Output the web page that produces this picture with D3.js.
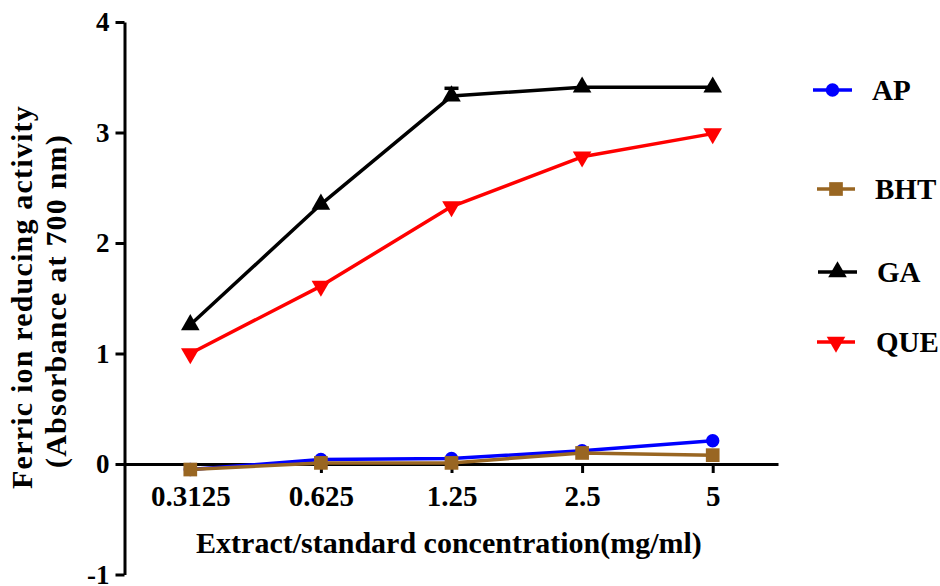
<!DOCTYPE html>
<html>
<head>
<meta charset="utf-8">
<script src="https://cdn.jsdelivr.net/npm/d3@7"></script>
<style>
  html, body { margin: 0; padding: 0; background: #fff; }
  svg { display: block; }
  text { font-family: "Liberation Serif", "Times New Roman", serif; font-weight: bold; fill: #000; }
</style>
</head>
<body>
<svg id="chart" width="940" height="586"></svg>
<script>
// Concentrations (categorical x positions)
const concentrations = ["0.3125", "0.625", "1.25", "2.5", "5"];
const yTicks = [-1, 0, 1, 2, 3, 4];

// Absorbance at 700 nm per sample
const seriesNames = ["AP", "BHT", "GA", "QUE"];
const apValues  = [-0.05, 0.04, 0.05, 0.12, 0.21];
const bhtValues = [-0.05, 0.01, 0.01, 0.10, 0.08];
const gaValues  = [1.26, 2.35, 3.33, 3.41, 3.41];
const queValues = [1.00, 1.61, 2.33, 2.78, 2.99];
// standard error (only visible on GA at 1.25)
const gaErrors  = [0, 0, 0.07, 0, 0];

const seriesColors = ["#0000ff", "#996622", "#000000", "#ff0000"];
const seriesShapes = ["circle", "square", "triangle", "triangleDown"];

const series = seriesNames.map((name, i) => ({
  name,
  color: seriesColors[i],
  shape: seriesShapes[i],
  values: [apValues, bhtValues, gaValues, queValues][i],
  errors: name === "GA" ? gaErrors : null
}));

const svg = d3.select("#chart");

const x = d3.scalePoint().domain(concentrations).range([125, 778]).padding(0.5);
const y = d3.scaleLinear().domain([-1, 4]).range([574.5, 22]);

// y axis
const yAxis = d3.axisLeft(y).tickValues(yTicks).tickFormat(d => String(d)).tickSize(9).tickSizeOuter(0);
const gy = svg.append("g").attr("transform", "translate(124.5,0)").call(yAxis);
gy.select(".domain").attr("stroke", "#000").attr("stroke-width", 3);
gy.selectAll(".tick line").attr("stroke", "#000").attr("stroke-width", 3);
gy.selectAll(".tick text")
  .attr("x", -15).attr("dy", "0.33em")
  .style("font-size", "27px").style("font-family", "Liberation Serif").style("font-weight", "bold");

// x axis along y = 0
const xAxis = d3.axisBottom(x).tickSize(9).tickSizeOuter(0);
const gx = svg.append("g").attr("transform", `translate(0,${y(0)})`).call(xAxis);
gx.select(".domain").attr("stroke", "#000").attr("stroke-width", 3);
gx.selectAll(".tick line").attr("stroke", "#000").attr("stroke-width", 3);
gx.selectAll(".tick text")
  .attr("y", 42).attr("dy", 0)
  .style("font-size", "29px").style("font-family", "Liberation Serif").style("font-weight", "bold");

// axis titles
svg.append("text")
  .attr("x", 449).attr("y", 553)
  .attr("text-anchor", "middle")
  .style("font-size", "30px")
  .text("Extract/standard concentration(mg/ml)");

const yTitle = svg.append("g").attr("transform", "translate(32,297) rotate(-90)");
yTitle.append("text")
  .attr("x", 0).attr("y", 0)
  .attr("text-anchor", "middle")
  .style("font-size", "30px")
  .style("letter-spacing", "1.2px")
  .text("Ferric ion reducing activity");
yTitle.append("text")
  .attr("x", -4).attr("y", 34)
  .attr("text-anchor", "middle")
  .style("font-size", "30px")
  .style("letter-spacing", "1.2px")
  .text("(Absorbance at 700 nm)");

// marker symbols
const symbolFor = (shape, size) => {
  if (shape === "circle") return d3.symbol(d3.symbolCircle, size * 0.95)();
  if (shape === "square") return d3.symbol(d3.symbolSquare, size * 1.25)();
  return d3.symbol(d3.symbolTriangle, size)();
};

const line = d3.line().x((d, i) => x(concentrations[i])).y(d => y(d));

const plot = svg.append("g");
series.forEach(s => {
  const g = plot.append("g");
  g.append("path")
    .datum(s.values)
    .attr("fill", "none")
    .attr("stroke", s.color)
    .attr("stroke-width", 3.5)
    .attr("stroke-linejoin", "round")
    .attr("d", line);

  // upward error bars, drawn beneath the markers
  if (s.errors) {
    s.values.forEach((v, i) => {
      const e = s.errors[i];
      if (!e) return;
      const cx = x(concentrations[i]);
      g.append("line").attr("x1", cx).attr("x2", cx)
        .attr("y1", y(v)).attr("y2", y(v + e))
        .attr("stroke", s.color).attr("stroke-width", 3);
      g.append("line").attr("x1", cx - 7).attr("x2", cx + 7)
        .attr("y1", y(v + e)).attr("y2", y(v + e))
        .attr("stroke", s.color).attr("stroke-width", 3.5);
    });
  }

  g.selectAll("path.marker")
    .data(s.values)
    .join("path")
    .attr("class", "marker")
    .attr("fill", s.color)
    .attr("d", symbolFor(s.shape, 150))
    .attr("transform", (d, i) =>
      `translate(${x(concentrations[i])},${y(d)})` + (s.shape === "triangleDown" ? " rotate(180)" : ""));
});

// legend
const legendRows = [
  { y: 90,  x0: 813, x1: 852, text: 872 },
  { y: 189, x0: 817, x1: 855, text: 875 },
  { y: 272, x0: 818, x1: 857, text: 877 },
  { y: 342, x0: 817, x1: 855, text: 876 }
];
series.forEach((s, i) => {
  const r = legendRows[i];
  const g = svg.append("g");
  g.append("line")
    .attr("x1", r.x0).attr("x2", r.x1)
    .attr("y1", r.y).attr("y2", r.y)
    .attr("stroke", s.color).attr("stroke-width", 3.5);
  g.append("path")
    .attr("fill", s.color)
    .attr("d", symbolFor(s.shape, 150))
    .attr("transform", `translate(${(r.x0 + r.x1) / 2},${r.y})` + (s.shape === "triangleDown" ? " rotate(180)" : ""));
  g.append("text")
    .attr("x", r.text).attr("y", r.y + 10)
    .style("font-size", "29px")
    .text(s.name);
});
</script>
</body>
</html>
